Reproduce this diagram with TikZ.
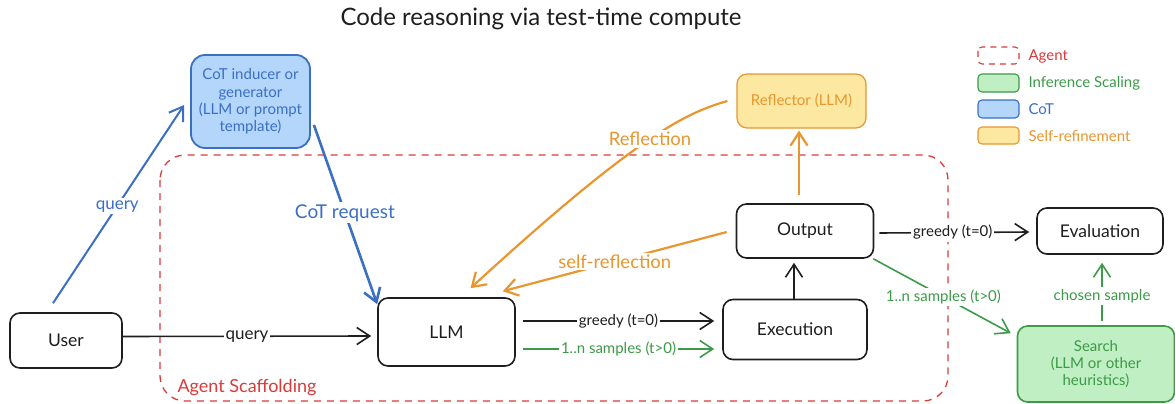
\documentclass[tikz,border=0pt]{standalone}
\usepackage{fontspec}
\setmainfont{Lato}
\usetikzlibrary{arrows.meta}
\definecolor{exblue}{HTML}{3A6FC4}
\definecolor{exbluefill}{HTML}{B3D6FA}
\definecolor{exorange}{HTML}{E8962F}
\definecolor{exyellow}{HTML}{FCE8A0}
\definecolor{exgreen}{HTML}{3C9A48}
\definecolor{exgreenfill}{HTML}{BFEFC3}
\definecolor{exred}{HTML}{D93A3A}
\definecolor{exink}{HTML}{1E1E1E}
\tikzset{
  box/.style={draw=exink, text=exink, line width=1.6pt, rounded corners=10pt, align=center,
    font=\fontsize{17.5}{19}\selectfont, inner sep=2pt},
  lab/.style={fill=white, inner sep=2pt, font=\fontsize{15}{17}\selectfont},
  arr/.style={line width=1.6pt, -{Straight Barb[length=13pt,width=17pt]}},
  legendbox/.style={line width=1.1pt, rounded corners=4pt},
  legendlab/.style={anchor=west, font=\fontsize{15}{17}\selectfont},
}
\begin{document}
\begin{tikzpicture}[x=1pt,y=-1pt]
\useasboundingbox (0,0) rectangle (1175,404);
% title
\node[text=exink, font=\fontsize{24}{28}\selectfont] (title) at (541,19) {Code reasoning via test-time compute};
% agent scaffolding
\draw[exred, line width=1.3pt, dash pattern=on 7pt off 6pt, rounded corners=25pt] (160,155) rectangle (948,401);
\node[exred, anchor=west, font=\fontsize{18}{20}\selectfont] (agentlab) at (174,388) {Agent Scaffolding};
% nodes
\node[box, minimum width=112pt, minimum height=55pt] (user) at (66,340.5) {User};
\node[box, minimum width=137pt, minimum height=68pt] (llm) at (446.5,332) {LLM};
\node[box, minimum width=144pt, minimum height=60pt] (exec) at (795,329.5) {Execution};
\node[box, minimum width=137pt, minimum height=54pt] (output) at (805,231) {Output};
\node[box, minimum width=126pt, minimum height=46pt] (eval) at (1100,231) {Evaluation};
\node[box, draw=exgreen, fill=exgreenfill, text=exgreen, minimum width=157pt, minimum height=76pt,
  font=\fontsize{15}{17}\selectfont] (search) at (1096,364) {Search\\(LLM or other\\heuristics)};
\node[box, draw=exorange, line width=1.2pt, fill=exyellow, text=exorange, minimum width=129pt, minimum height=54pt,
  font=\fontsize{15}{17}\selectfont] (refl) at (801.5,101) {Reflector (LLM)};
\node[box, draw=exblue, line width=1.8pt, fill=exbluefill, text=exblue, minimum width=119pt, minimum height=93pt,
  rounded corners=14pt, font=\fontsize{15}{17.3}\selectfont] (cot) at (250.5,101.5) {CoT inducer or\\generator\\(LLM or prompt\\template)};
% arrows
\draw[arr, exblue, line width=2pt] ([xshift=-13pt,yshift=9pt]user.north) -- node[lab, pos=0.49, text=exblue, font=\fontsize{17}{19}\selectfont]{query} ([xshift=-6pt,yshift=-3.5pt]cot.west);
\draw[arr, exblue, line width=2.6pt] ([xshift=3pt,yshift=-23.5pt]cot.east) -- node[lab, pos=0.49, text=exblue, font=\fontsize{19}{21}\selectfont]{CoT request} ([yshift=-7pt]llm.north west);
\draw[arr, exink] ([yshift=4pt]user.east) -- node[lab, text=exink, font=\fontsize{17}{19}\selectfont]{query} ([xshift=-6pt,yshift=-4pt]llm.west);
\draw[arr, exink] ([xshift=7pt,yshift=11pt]llm.east) -- node[lab, text=exink]{greedy (t=0)} ([xshift=-8pt,yshift=8.5pt]exec.west);
\draw[arr, exgreen] ([xshift=7pt,yshift=-17pt]llm.east) -- node[lab, text=exgreen]{1..n samples (t>0)} ([xshift=-8pt,yshift=-19.5pt]exec.west);
\draw[arr, exink] ([xshift=-1pt]exec.north) -- ([xshift=-11pt,yshift=-4pt]output.south);
\draw[arr, exorange, line width=2.2pt] ([xshift=-6pt,yshift=8pt]output.north) -- ([xshift=-2.5pt,yshift=-2pt]refl.south);
\draw[arr, exorange, line width=2.2pt] ([xshift=-9pt,yshift=0pt]refl.west) .. controls (690,112) and (644,129) .. node[lab, pos=0.5, text=exorange, font=\fontsize{18.5}{20}\selectfont]{Reflection} ([xshift=24pt,yshift=9pt]llm.north);
\draw[arr, exorange, line width=2.2pt] ([xshift=-9pt,yshift=-1pt]output.west) -- node[lab, pos=0.5, text=exorange, font=\fontsize{18.5}{20}\selectfont]{self-reflection} ([xshift=-13pt,yshift=6pt]llm.north east);
\draw[arr, exink] ([xshift=5pt,yshift=-2pt]output.east) -- node[lab, pos=0.49, text=exink]{greedy (t=0)} ([xshift=-7pt,yshift=-1pt]eval.west);
\draw[arr, exgreen] ([xshift=-1pt]output.south east) -- node[lab, pos=0.51, text=exgreen]{1..n samples (t>0)} ([xshift=-6pt,yshift=-8pt]search.north west);
\draw[arr, exgreen] ([xshift=6pt,yshift=4pt]search.north) -- node[lab, pos=0.43, text=exgreen]{chosen sample} ([xshift=2pt,yshift=-8pt]eval.south);
% legend
\draw[legendbox, exred, dash pattern=on 6pt off 5pt] (978,47) rectangle (1019,64);
\node[legendlab, text=exred] (lg1) at (1025,56) {Agent};
\draw[legendbox, exgreen, fill=exgreenfill] (978,74) rectangle (1019,92);
\node[legendlab, text=exgreen] (lg2) at (1025,83) {Inference Scaling};
\draw[legendbox, exblue, fill=exbluefill] (978,100) rectangle (1019,118);
\node[legendlab, text=exblue] (lg3) at (1025,109) {CoT};
\draw[legendbox, exorange, fill=exyellow] (978,127) rectangle (1019,144);
\node[legendlab, text=exorange] (lg4) at (1025,136) {Self-refinement};
\end{tikzpicture}
\end{document}
